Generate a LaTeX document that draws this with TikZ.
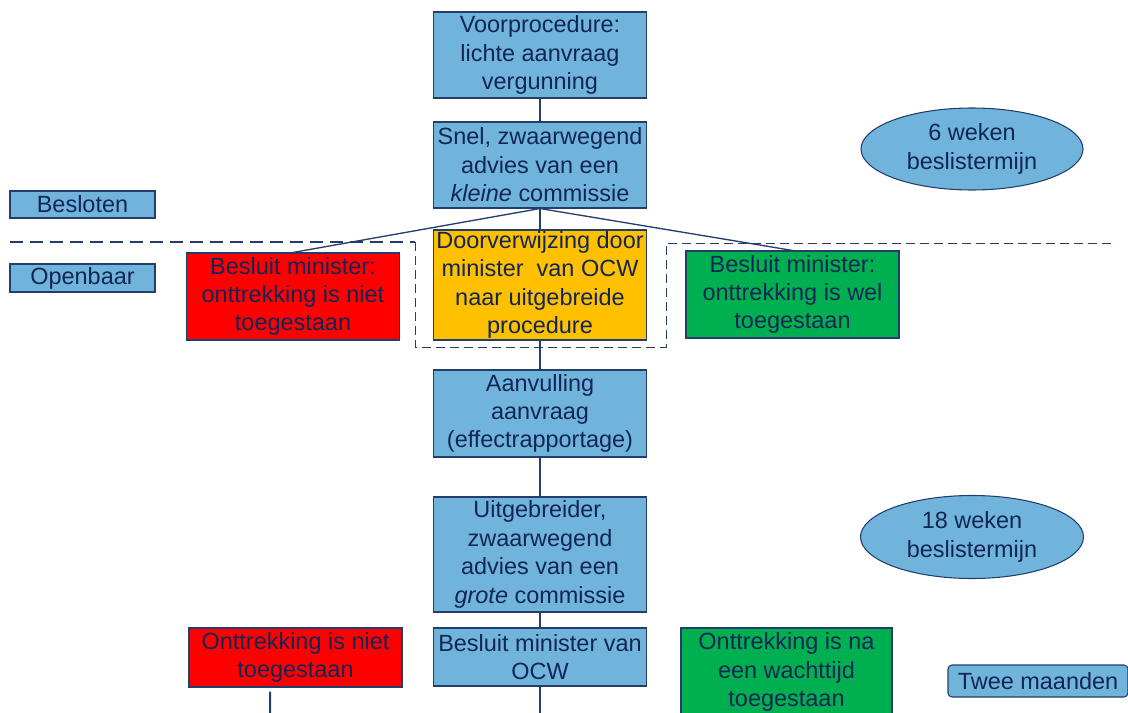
\documentclass[tikz,border=0pt]{standalone}
\usepackage{fontspec}
\setmainfont{Liberation Sans}
\usepackage{tikz}
\usetikzlibrary{shapes.geometric}
\usepackage{xcolor}
\definecolor{boxblue}{RGB}{112,180,220}
\definecolor{edgeblue}{RGB}{36,62,108}
\definecolor{txtblue}{RGB}{18,38,86}
\definecolor{boxred}{RGB}{255,0,0}
\definecolor{boxorange}{RGB}{255,192,0}
\definecolor{boxgreen}{RGB}{0,176,80}

\begin{document}
\begin{tikzpicture}[x=0.75pt,y=-0.75pt,
  blok/.style={draw=edgeblue,line width=0.8pt,fill=boxblue,text=txtblue,align=center,inner sep=0pt,
    font=\fontsize{17.6pt}{21.3pt}\selectfont,minimum width=159.75pt},
  label/.style={blok,minimum width=108.75pt},
  termijn/.style={blok,ellipse,minimum width=166.5pt,minimum height=61.5pt},
  link/.style={edgeblue,line width=1pt},
  grens/.style={edgeblue,line width=1.5pt,dash pattern=on 9.75pt off 5.25pt},
  kader/.style={edgeblue,line width=0.75pt,dash pattern=on 6.75pt off 3.75pt}]
\useasboundingbox (0,0) rectangle (1128,713);

\draw [grens] (10,242) -- (415,242);
\draw [kader] (415,242) -- (415,347) -- (666,347) -- (666,243) -- (1113,243);

\node [blok,minimum height=64.5pt] (voor) at (540,55) {Voorprocedure:\\lichte aanvraag\\vergunning};
\node [blok,minimum height=64.5pt] (snel) at (540,165) {Snel, zwaarwegend\\advies van een\\\textit{kleine} commissie};
\node [label,minimum height=20.25pt] (besloten) at (82.5,204.5) {Besloten};
\node [label,minimum height=21pt] (openbaar) at (82.5,278) {Openbaar};
\node [termijn] (zes) at (972,149) {6 weken\\beslistermijn};

\node [blok,fill=boxred,minimum height=65.25pt] (nietA) at (293,296.5) {Besluit minister:\\onttrekking is niet\\toegestaan};
\node [blok,fill=boxorange,minimum height=82.5pt] (door) at (540,285) {Doorverwijzing door\\minister\ \ van OCW\\naar uitgebreide\\procedure};
\node [blok,fill=boxgreen,minimum height=65.25pt] (welA) at (792.5,294.5) {Besluit minister:\\onttrekking is wel\\toegestaan};

\node [blok,minimum height=65.25pt] (aanv) at (540,413.5) {Aanvulling\\aanvraag\\(effectrapportage)};
\node [blok,minimum height=86.25pt] (uitg) at (540,554.5) {Uitgebreider,\\zwaarwegend\\advies van een\\\textit{grote} commissie};
\node [termijn,minimum width=167.25pt,minimum height=62.25pt] (achttien) at (972,537) {18 weken\\beslistermijn};

\node [blok,fill=boxred,minimum height=44.25pt] (nietB) at (295.5,657.5) {Onttrekking is niet\\toegestaan};
\node [blok,minimum height=43.5pt] (ocw) at (540,657) {Besluit minister van\\OCW};
\node [blok,fill=boxgreen,minimum width=158.25pt,minimum height=66pt] (wacht) at (786.5,672) {Onttrekking is na\\een wachttijd\\toegestaan};
\node [blok,rounded corners=3pt,minimum width=135pt,minimum height=24pt] (twee) at (1038,681) {Twee maanden};

\coordinate (ocwend) at (540,713);
\coordinate (nietend) at (270,713);

\draw [link] (voor) -- (snel);
\draw [link] (snel.south) -- (nietA.north);
\draw [link] (snel.south) -- (door.north);
\draw [link] (snel.south) -- (welA.north);
\draw [link] (door) -- (aanv);
\draw [link,line width=1.5pt] (aanv) -- (uitg);
\draw [link] (uitg) -- (ocw);
\draw [link] (ocw.south) -- (ocwend);
\draw [link,line width=1.5pt] ([xshift=-19.1pt,yshift=-3pt]nietB.south) -- (nietend);

\end{tikzpicture}
\end{document}
